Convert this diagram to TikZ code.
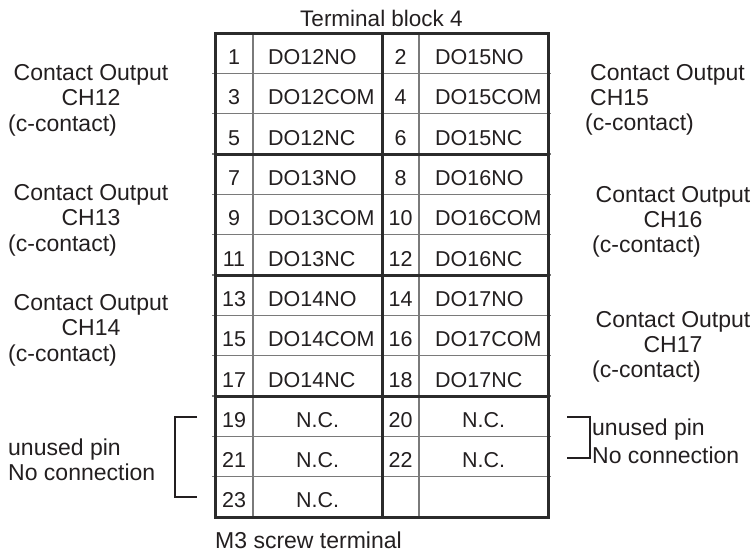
\documentclass[tikz,border=0pt]{standalone}
\usepackage{fontspec}
\setmainfont{Liberation Sans}
\usetikzlibrary{positioning}
\definecolor{inkdark}{HTML}{231F20}
\definecolor{rulegray}{HTML}{7A7A7A}
\definecolor{framedark}{HTML}{2B2B2B}

\begin{document}
\begin{tikzpicture}[
    x=1pt, y=-1pt,
    every node/.style={inner sep=0pt, text=inkdark, font=\fontsize{23}{27}\selectfont},
    cell/.style={anchor=base, font=\fontsize{21.5}{25}\selectfont},
    sig/.style={cell, anchor=base west},
    thinrule/.style={rulegray, line width=1.1pt},
    thickrule/.style={framedark, line width=3pt},
    bracketline/.style={inkdark, line width=1.8pt}
]
    \useasboundingbox (0,0) rectangle (754,552);

    % === TERMINAL TABLE ===
    % Thin row and column rules
    \foreach \r in {1,...,11} {
        \draw[thinrule] (212,{33+\r*40.333}) -- (551,{33+\r*40.333});
    }
    \draw[thinrule] (253,33) -- (253,517);
    \draw[thinrule] (419,33) -- (419,517);

    % Thick group rules and frame
    \foreach \r in {3,6,9} {
        \draw[thickrule] (215,{33+\r*40.333}) -- (548,{33+\r*40.333});
    }
    \draw[thickrule] (382,33) -- (382,517);
    \draw[thickrule] (215,33) rectangle (548,517);

    % Contact pins
    \foreach \a/\la/\b/\lb [count=\r] in {1/DO12NO/2/DO15NO, 3/DO12COM/4/DO15COM, 5/DO12NC/6/DO15NC,
        7/DO13NO/8/DO16NO, 9/DO13COM/10/DO16COM, 11/DO13NC/12/DO16NC,
        13/DO14NO/14/DO17NO, 15/DO14COM/16/DO17COM, 17/DO14NC/18/DO17NC} {
        \pgfmathsetmacro{\yb}{33+(\r-1)*40.333+31.5}
        \node[cell] (num\a) at (234,\yb) {\a};
        \node[sig] (pin\a) at (268,\yb) {\la};
        \node[cell] (num\b) at (400.5,\yb) {\b};
        \node[sig] (pin\b) at (435,\yb) {\lb};
    }

    % Unused pins
    \foreach \a/\b [count=\r from 10] in {19/20, 21/22} {
        \pgfmathsetmacro{\yb}{33+(\r-1)*40.333+31.5}
        \node[cell] (num\a) at (234,\yb) {\a};
        \node[cell] (pin\a) at (317.5,\yb) {N.C.};
        \node[cell] (num\b) at (400.5,\yb) {\b};
        \node[cell] (pin\b) at (483.5,\yb) {N.C.};
    }
    \node[cell] (num23) at (234,507.5) {23};
    \node[cell] (pin23) at (317.5,507.5) {N.C.};

    % Captions
    \node[anchor=base, font=\fontsize{22.5}{27}\selectfont] (title) at (381.5,26) {Terminal block 4};
    \node[anchor=base west] (screw) at (215,548) {M3 screw terminal};

    % === LEFT LABELS ===
    \foreach \ch/\yb in {12/80, 13/200, 14/310} {
        \node[anchor=base] (lhead\ch) at (91,\yb) {Contact Output};
        \node[anchor=base] (lch\ch) at (91,{\yb+25.5}) {CH\ch};
        \node[anchor=base west] (ltype\ch) at (8,{\yb+51}) {(c-contact)};
    }

    % === RIGHT LABELS ===
    \node[anchor=base west] (rhead15) at (590,80) {Contact Output};
    \node[anchor=base west] (rch15) at (590,105) {CH15};
    \node[anchor=base west] (rtype15) at (585,130) {(c-contact)};
    \foreach \ch/\yb in {16/202, 17/327} {
        \node[anchor=base] (rhead\ch) at (673,\yb) {Contact Output};
        \node[anchor=base] (rch\ch) at (673,{\yb+25}) {CH\ch};
        \node[anchor=base west] (rtype\ch) at (592,{\yb+50}) {(c-contact)};
    }

    % === UNUSED PIN NOTES ===
    \node[anchor=base west] (lunused) at (8,455) {unused pin};
    \node[anchor=base west] (lnone) at (8,480) {No connection};
    \draw[bracketline] (197,417) -- (175,417) -- (175,497) -- (197,497);

    \node[anchor=base west] (runused) at (592,435) {unused pin};
    \node[anchor=base west] (rnone) at (592,463) {No connection};
    \draw[bracketline, line width=1.4pt] (567,417) -- (590,417) -- (590,458) -- (567,458);
\end{tikzpicture}
\end{document}
